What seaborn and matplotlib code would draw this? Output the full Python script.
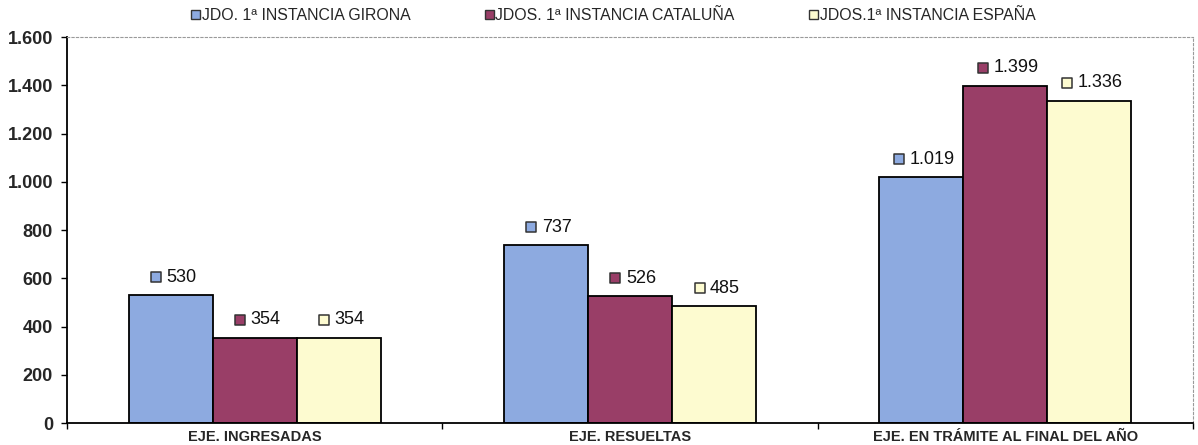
import matplotlib
matplotlib.use("Agg")
import matplotlib.pyplot as plt
import matplotlib.transforms as mtransforms
from matplotlib.patches import Patch
from matplotlib.ticker import FuncFormatter, FixedLocator
import seaborn as sns
import pandas as pd

# datos
categorias = ["EJE. INGRESADAS", "EJE. RESUELTAS", "EJE. EN TRÁMITE AL FINAL DEL AÑO"]
series = ["JDO. 1ª INSTANCIA GIRONA", "JDOS. 1ª INSTANCIA CATALUÑA", "JDOS.1ª INSTANCIA ESPAÑA"]
girona = [530, 737, 1019]
cataluna = [354, 526, 1399]
espana = [354, 485, 1336]
y_ticks = [0, 200, 400, 600, 800, 1000, 1200, 1400, 1600]

colores = ["#8DAAE0", "#993E67", "#FDFBD0"]

sns.set_theme(style="white")
plt.rcParams["font.family"] = ["Liberation Sans", "DejaVu Sans"]


def miles(v):
    return f"{v:,.0f}".replace(",", ".")


df = pd.DataFrame({
    "categoria": categorias * 3,
    "serie": [series[0]] * 3 + [series[1]] * 3 + [series[2]] * 3,
    "valor": girona + cataluna + espana,
})

fig = plt.figure(figsize=(11.98, 4.45), dpi=100)
ax = fig.add_axes([0.0559, 0.0494, 0.9399, 0.8674])

sns.barplot(
    data=df, x="categoria", y="valor", hue="serie",
    order=categorias, hue_order=series,
    palette=colores, width=0.672, gap=0,
    edgecolor="black", linewidth=1.3,
    saturation=1, legend=False, ax=ax, errorbar=None
)

ax.set_xlim(-0.5, 2.5)
ax.set_ylim(0, 1600)
ax.set_xlabel("")
ax.set_ylabel("")

# ejes
ax.yaxis.set_major_locator(FixedLocator(y_ticks))
ax.yaxis.set_major_formatter(FuncFormatter(lambda v, p: miles(v)))
ax.tick_params(axis="y", left=True, length=4, width=1, color="black",
               labelsize=13, pad=6)
for t in ax.get_yticklabels():
    t.set_fontweight("bold")

ax.xaxis.set_minor_locator(FixedLocator([-0.5, 0.5, 1.5, 2.5]))
ax.tick_params(axis="x", which="major", length=0, labelsize=10.5, pad=5)
ax.tick_params(axis="x", which="minor", bottom=True, length=4, width=1, color="black")
for t in ax.get_xticklabels():
    t.set_fontweight("bold")

for lado in ["left", "bottom"]:
    ax.spines[lado].set_color("black")
    ax.spines[lado].set_linewidth(1.3)
for lado in ["top", "right"]:
    ax.spines[lado].set_color("#9a9a9a")
    ax.spines[lado].set_linewidth(0.8)
    ax.spines[lado].set_linestyle((0, (2, 2)))

# etiquetas de valor con su marcador
todos = [girona, cataluna, espana]
for barras, vals, col in zip(ax.containers, todos, colores):
    for rect, v in zip(barras, vals):
        cx = rect.get_x() + rect.get_width() / 2
        txt = miles(v)
        ancho = 9 + 6 + sum(5.0 if c == "." else 10.0 for c in txt)
        izq = -ancho / 2 + 3.5
        tr_m = mtransforms.offset_copy(ax.transData, fig=fig, x=izq + 4.5, y=18, units="dots")
        ax.scatter([cx], [v], marker="s", s=48, color=col, edgecolor="#333333",
                   linewidth=1.1, transform=tr_m, clip_on=False, zorder=5)
        tr_t = mtransforms.offset_copy(ax.transData, fig=fig, x=izq + 15, y=18, units="dots")
        ax.text(cx, v, txt, transform=tr_t, ha="left", va="center",
                fontsize=13, color="#111111")

# leyenda
handles = [Patch(facecolor=c, edgecolor="#333333", linewidth=1.0) for c in colores]
fig.legend(handles, series, loc="center", bbox_to_anchor=(0.512, 0.965),
           ncol=3, frameon=False, fontsize=11.4, handlelength=0.55, handleheight=0.55,
           handletextpad=0.12, columnspacing=4.7, borderaxespad=0)

fig.savefig("out.png", dpi=100, facecolor="white")
